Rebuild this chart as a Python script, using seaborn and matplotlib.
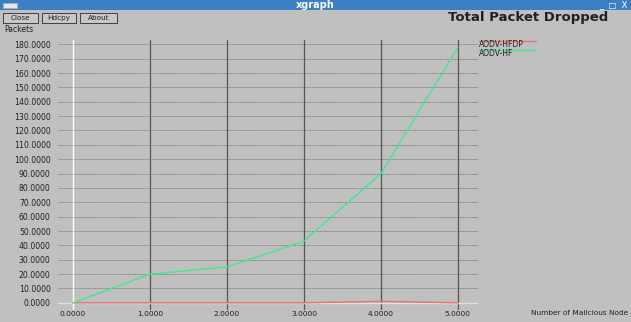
import matplotlib
matplotlib.use("Agg")
import matplotlib.pyplot as plt
import seaborn as sns
import pandas as pd
from matplotlib.patches import Rectangle
from matplotlib.lines import Line2D

nodes = [0, 1, 2, 3, 4, 5]
hfdp = [0, 0, 0, 0, 1, 0]
hf = [0, 20, 25, 43, 90, 178]
series_names = ["AODV-HFDP", "AODV-HF"]
colors = ["#e87070", "#40e890"]
yticks = list(range(0, 190, 10))

sns.set_style("white")
plt.rcParams['font.family'] = ['DejaVu Sans']

df = pd.DataFrame({"x": nodes * 2, "y": hfdp + hf,
                   "s": [series_names[0]] * 6 + [series_names[1]] * 6})

fig = plt.figure(figsize=(6.31, 3.22), dpi=100)
fig.patch.set_facecolor("#c0c0c0")
W, H = 631, 322

# title bar
fig.patches.append(Rectangle((0, 1 - 10 / H), 1, 10 / H, transform=fig.transFigure,
                             facecolor="#3d7fc4", edgecolor="none", zorder=0))
fig.patches.append(Rectangle((3 / W, 1 - 8 / H), 14 / W, 5 / H, transform=fig.transFigure,
                             facecolor="#e8e8e8", edgecolor="#aaaaaa", lw=0.5))
fig.text(0.5, 1 - 5 / H, "xgraph", color="white", fontsize=7, fontweight="bold",
         ha="center", va="center")
fig.text(1 - 4 / W, 1 - 5 / H, "_  □  X", color="white", fontsize=6, ha="right", va="center")

# buttons
for bx, bw, lab in [(3, 35, "Close"), (42, 34, "Hdcpy"), (80, 37, "About")]:
    fig.patches.append(Rectangle((bx / W, 1 - 23 / H), bw / W, 10 / H, transform=fig.transFigure,
                                 facecolor="#c8c8c8", edgecolor="#404040", lw=0.7))
    fig.text((bx + bw / 2) / W, 1 - 18 / H, lab, fontsize=5.2, ha="center", va="center",
             color="#202020")
fig.text(4 / W, 1 - 30 / H, "Packets", fontsize=5.5, ha="left", va="center", color="#202020")
fig.text(608 / W, 1 - 18 / H, "Total Packet Dropped", fontsize=9.5, fontweight="bold",
         ha="right", va="center", color="#202020")
fig.text(628 / W, 1 - 313 / H, "Number of Malicious Node", fontsize=5.3, ha="right",
         va="center", color="#202020")

ax = fig.add_axes([73 / W - 0.2 * 77 / W, (322 - 310) / H, (478 - 73 + 0.2 * 77) / W, 270 / H])
ax.set_facecolor("#c0c0c0")
ax.set_xlim(-0.2, 5.26)
ax.set_ylim(-5, 183)
for sp in ax.spines.values():
    sp.set_visible(False)

for v in yticks:
    ax.axhline(v, color="#686868", lw=0.6, ls=(0, (1, 1)), zorder=1)
for v in nodes[1:]:
    ax.axvline(v, color="#555555", lw=0.9, zorder=1)
ax.axvline(0, color="white", lw=1.0, zorder=1)
ax.plot([-0.2, 5.26], [0, 0], color="#e0e0e0", lw=1.0, zorder=1)

sns.lineplot(data=df, x="x", y="y", hue="s", palette=colors, ax=ax, legend=False,
             lw=1.0, zorder=3)

ax.set_yticks(yticks)
ax.set_yticklabels([f"{v:.4f}" for v in yticks], fontsize=5.6, color="#202020")
ax.set_xticks(nodes)
ax.set_xticklabels([f"{v:.4f}" for v in nodes], fontsize=5.4, color="#202020")
ax.tick_params(axis="y", length=4, color="#808080", pad=1)
ax.tick_params(axis="x", length=0, pad=0.5)
ax.set_xlabel("")
ax.set_ylabel("")

# legend
for i, (nm, c) in enumerate(zip(series_names, colors)):
    y = 1 - (41 + i * 9) / H
    fig.lines.append(Line2D([479 / W, 536 / W], [y, y], transform=fig.transFigure,
                            color=c, lw=1.0))
    fig.text(479 / W, y - 3.5 / H, nm, fontsize=5.5, ha="left", va="center", color="#202020")

fig.savefig("out.png", dpi=100, facecolor=fig.get_facecolor())
